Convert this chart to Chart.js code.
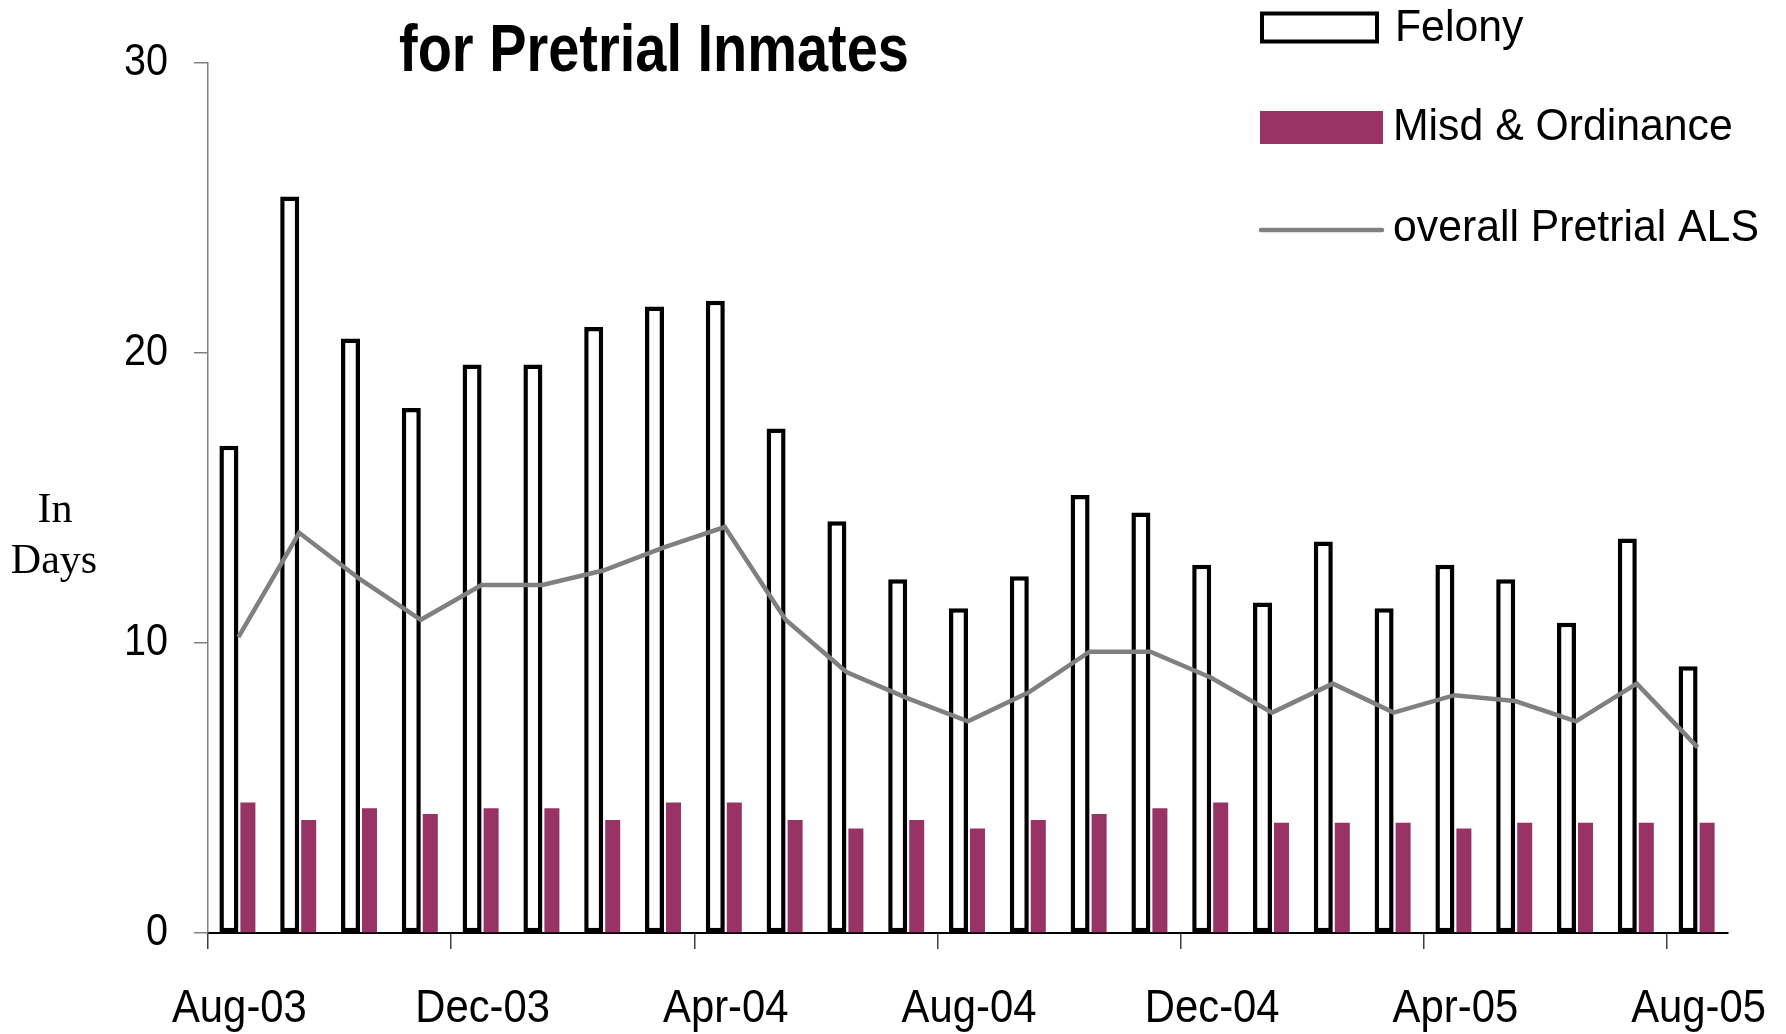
<!DOCTYPE html>
<html>
<head>
<meta charset="utf-8">
<title>Pretrial ALS</title>
<script src="https://cdn.jsdelivr.net/npm/chart.js@4.4.1/dist/chart.umd.min.js"></script>
<style>
    body { margin: 0; background: #fff; }
    #wrap { width: 1786px; height: 1034px; }
</style>
</head>
<body>
<div id="wrap"><canvas id="chart" width="1786" height="1034"></canvas></div>
<script>
    var months = ['Aug-03', 'Sep-03', 'Oct-03', 'Nov-03', 'Dec-03', 'Jan-04', 'Feb-04', 'Mar-04', 'Apr-04',
                  'May-04', 'Jun-04', 'Jul-04', 'Aug-04', 'Sep-04', 'Oct-04', 'Nov-04', 'Dec-04', 'Jan-05',
                  'Feb-05', 'Mar-05', 'Apr-05', 'May-05', 'Jun-05', 'Jul-05', 'Aug-05'];
    var felony = [16.8, 25.4, 20.5, 18.1, 19.6, 19.6, 20.9, 21.6, 21.8, 17.4, 14.2, 12.2, 11.2,
                  12.3, 15.1, 14.5, 12.7, 11.4, 13.5, 11.2, 12.7, 12.2, 10.7, 13.6, 9.2];
    var misd = [4.5, 3.9, 4.3, 4.1, 4.3, 4.3, 3.9, 4.5, 4.5, 3.9, 3.6, 3.9, 3.6,
                3.9, 4.1, 4.3, 4.5, 3.8, 3.8, 3.8, 3.6, 3.8, 3.8, 3.8, 3.8];
    var overall = [10.2, 13.8, 12.2, 10.8, 12.0, 12.0, 12.5, 13.3, 14.0, 10.8, 9.0, 8.1, 7.3,
                   8.3, 9.7, 9.7, 8.8, 7.6, 8.6, 7.6, 8.2, 8.0, 7.3, 8.6, 6.4];
    var yTicks = [0, 10, 20, 30];

    var sans = "'Liberation Sans', Arial, sans-serif";

    // no narrow font here, so squeeze the text sideways
    function squeezed(ctx, text, x, y, align, sx) {
        ctx.save();
        ctx.translate(x, y);
        ctx.scale(sx, 1);
        ctx.textAlign = align;
        ctx.fillText(text, 0, 0);
        ctx.restore();
    }

    // tick labels, title, legend and the "In Days" label are drawn by hand
    var extras = {
        id: 'extras',
        afterDraw: function(chart) {
            var ctx = chart.ctx;
            var xs = chart.scales.x, ys = chart.scales.y;
            ctx.save();
            ctx.fillStyle = '#000';
            ctx.textBaseline = 'alphabetic';

            ctx.font = '47px ' + sans;
            xs.ticks.forEach(function(t, i) {
                if (i % 4 !== 0) return;
                squeezed(ctx, xs.getLabelForValue(t.value), xs.getPixelForTick(i) + 1, 1022, 'center', 0.89);
            });
            ctx.font = '45px ' + sans;
            ys.ticks.forEach(function(t, i) {
                squeezed(ctx, String(t.value), 168, ys.getPixelForTick(i) + 12, 'right', 0.88);
            });

            ctx.font = 'bold 67px ' + sans;
            squeezed(ctx, 'for Pretrial Inmates', 654, 71, 'center', 0.835);

            ctx.font = "42px 'Liberation Serif', 'Times New Roman', serif";
            ctx.textAlign = 'center';
            ctx.fillText('In', 55, 522);
            ctx.fillText('Days', 54, 573);

            var ds = chart.data.datasets;
            ctx.font = '45px ' + sans;
            // felony
            ctx.lineWidth = 4;
            ctx.strokeStyle = '#000';
            ctx.strokeRect(1262, 13.5, 115, 28);
            squeezed(ctx, ds[0].label, 1395, 41, 'left', 0.95);
            // misd
            ctx.fillStyle = ds[1].backgroundColor;
            ctx.fillRect(1260, 111, 123, 33);
            ctx.fillStyle = '#000';
            squeezed(ctx, ds[1].label, 1393, 140, 'left', 0.95);
            // line
            ctx.strokeStyle = ds[2].borderColor;
            ctx.lineWidth = 4.5;
            ctx.lineCap = 'round';
            ctx.beginPath();
            ctx.moveTo(1261, 230);
            ctx.lineTo(1382, 230);
            ctx.stroke();
            squeezed(ctx, ds[2].label, 1393, 241, 'left', 0.95);
            ctx.restore();
        }
    };

    var ctx = document.getElementById('chart').getContext('2d');
    var chart = new Chart(ctx, {
        type: 'bar',
        data: {
            labels: months,
            datasets: [{
                label: 'Felony',
                data: felony,
                backgroundColor: '#ffffff',
                borderColor: '#000000',
                borderWidth: 4.5,
                borderSkipped: false,
                barPercentage: 1,
                categoryPercentage: 0.625,
                order: 1
            }, {
                label: 'Misd & Ordinance',
                data: misd,
                backgroundColor: '#993366',
                borderWidth: 0,
                barPercentage: 0.79,
                categoryPercentage: 0.625,
                order: 1
            }, {
                type: 'line',
                label: 'overall Pretrial ALS',
                data: overall,
                borderColor: '#808080',
                borderWidth: 4.5,
                pointRadius: 0,
                tension: 0,
                fill: false,
                order: 0
            }]
        },
        options: {
            responsive: false,
            animation: false,
            layout: { padding: { top: 63, right: 58, left: 0, bottom: 0 } },
            plugins: {
                legend: { display: false },
                title: { display: false },
                tooltip: { enabled: false }
            },
            scales: {
                x: {
                    offset: true,
                    afterFit: function(scale) { scale.height = 101; },
                    grid: {
                        offset: true,
                        drawOnChartArea: false,
                        tickLength: 16,
                        lineWidth: 1.5,
                        tickColor: function(c) {
                            return (c.index !== undefined && c.index < months.length && c.index % 4 === 0) ? '#404040' : 'rgba(0,0,0,0)';
                        }
                    },
                    border: { display: true, color: '#000', width: 2 },
                    ticks: { display: false, autoSkip: false, maxRotation: 0 }
                },
                y: {
                    min: 0,
                    max: 30,
                    afterFit: function(scale) { scale.width = 208; },
                    afterBuildTicks: function(scale) {
                        scale.ticks = yTicks.map(function(v) { return { value: v }; });
                    },
                    grid: {
                        drawOnChartArea: false,
                        tickLength: 14,
                        lineWidth: 1.5,
                        tickColor: '#808080'
                    },
                    border: { display: true, color: '#808080', width: 1.5 },
                    ticks: { display: false }
                }
            }
        },
        plugins: [extras]
    });
</script>
</body>
</html>
